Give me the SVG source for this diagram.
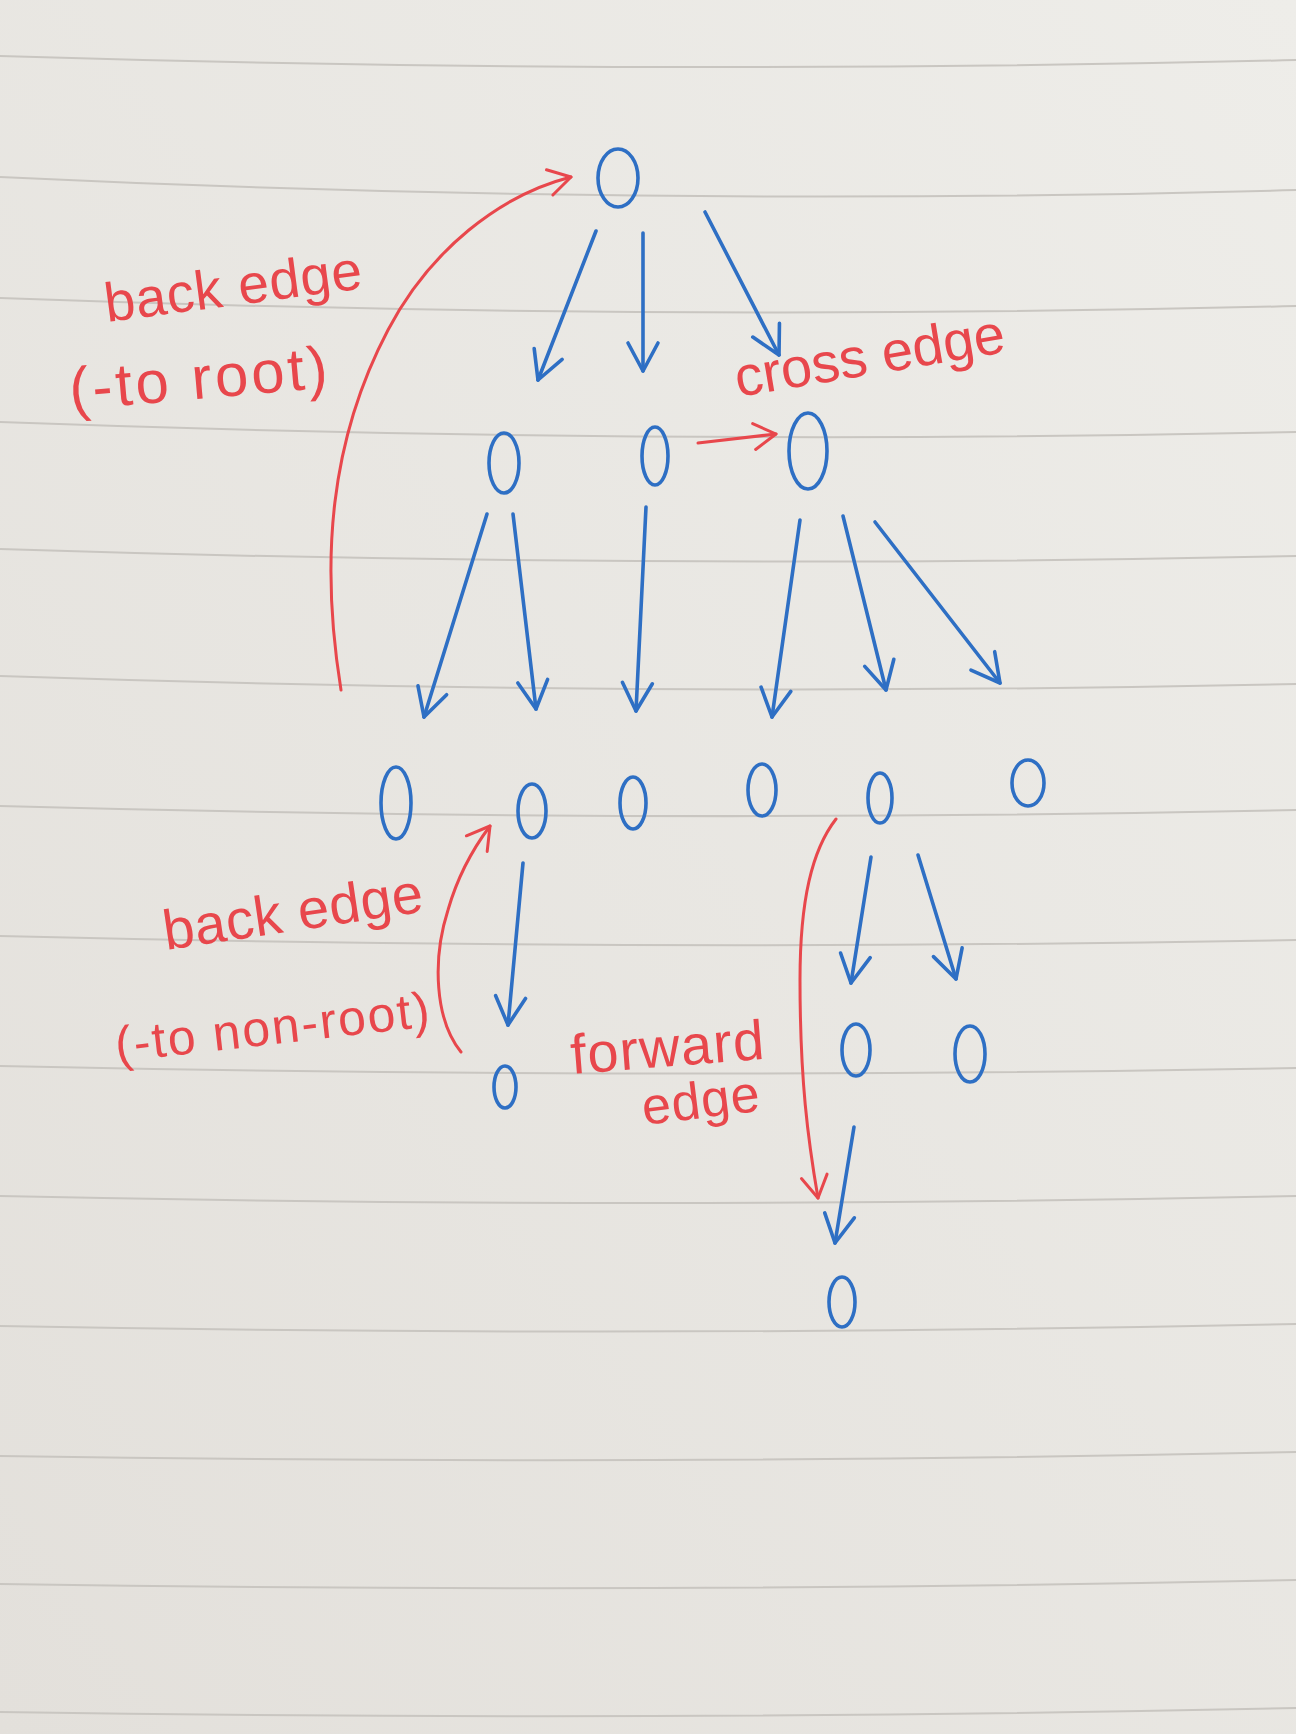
<svg xmlns="http://www.w3.org/2000/svg" width="1296" height="1734" viewBox="0 0 1296 1734">
  <defs>
    <linearGradient id="paper" x1="1" y1="0" x2="0" y2="1">
      <stop offset="0" stop-color="#eeede9"/>
      <stop offset="1" stop-color="#e3e0db"/>
    </linearGradient>
    <marker id="ah-blue" viewBox="-34 -20 40 40" refX="0" refY="0" markerWidth="40" markerHeight="40" markerUnits="userSpaceOnUse" orient="auto">
      <path d="M-28,-15 L0,0 L-28,15" fill="none" stroke="#2e6fc4" stroke-width="3.6" stroke-linecap="round" stroke-linejoin="round"/>
    </marker>
    <marker id="ah-red" viewBox="-34 -20 40 40" refX="0" refY="0" markerWidth="40" markerHeight="40" markerUnits="userSpaceOnUse" orient="auto">
      <path d="M-22,-13 L0,0 L-22,13" fill="none" stroke="#e8474c" stroke-width="3" stroke-linecap="round" stroke-linejoin="round"/>
    </marker>
    <style>
      .rule { fill: none; stroke: #c9c6c1; stroke-width: 2; }
      .node { fill: none; stroke: #2e6fc4; stroke-width: 3.6; }
      .tree { fill: none; stroke: #2e6fc4; stroke-width: 3.6; stroke-linecap: round; marker-end: url(#ah-blue); }
      .nontree { fill: none; stroke: #e8474c; stroke-width: 3; stroke-linecap: round; marker-end: url(#ah-red); }
      .label { fill: #e8474c; font-family: "Liberation Sans", Arial, sans-serif; }
    </style>
  </defs>

  <rect x="0" y="0" width="1296" height="1734" fill="url(#paper)"/>

  <g id="ruled-lines">
    <path class="rule" d="M0,56 Q650,76 1296,60"/>
    <path class="rule" d="M0,177 Q650,208 1296,190"/>
    <path class="rule" d="M0,298 Q650,322 1296,306"/>
    <path class="rule" d="M0,422 Q650,446 1296,432"/>
    <path class="rule" d="M0,549 Q650,570 1296,556"/>
    <path class="rule" d="M0,676 Q650,698 1296,684"/>
    <path class="rule" d="M0,806 Q650,824 1296,810"/>
    <path class="rule" d="M0,936 Q650,952 1296,940"/>
    <path class="rule" d="M0,1066 Q650,1080 1296,1068"/>
    <path class="rule" d="M0,1196 Q650,1210 1296,1196"/>
    <path class="rule" d="M0,1326 Q650,1338 1296,1324"/>
    <path class="rule" d="M0,1456 Q650,1466 1296,1452"/>
    <path class="rule" d="M0,1584 Q650,1594 1296,1580"/>
    <path class="rule" d="M0,1712 Q650,1722 1296,1708"/>
  </g>

  <g id="connectors">
    <path class="tree" d="M596,231 L538,380"/>
    <path class="tree" d="M643,233 L643,371"/>
    <path class="tree" d="M705,212 L779,355"/>
    <path class="tree" d="M487,514 L424,717"/>
    <path class="tree" d="M513,514 L536,709"/>
    <path class="tree" d="M646,507 L636,711"/>
    <path class="tree" d="M800,520 L772,717"/>
    <path class="tree" d="M843,516 L886,690"/>
    <path class="tree" d="M875,522 L1000,683"/>
    <path class="tree" d="M523,863 L508,1025"/>
    <path class="tree" d="M871,857 L851,983"/>
    <path class="tree" d="M918,855 L956,979"/>
    <path class="tree" d="M854,1127 L835,1243"/>
    <path class="nontree" d="M341,690 C320,560 330,440 388,330 C430,250 500,195 571,177"/>
    <path class="nontree" d="M698,443 L776,434"/>
    <path class="nontree" d="M461,1052 C435,1020 432,960 448,910 C458,875 472,850 490,826"/>
    <path class="nontree" d="M836,819 C812,850 800,900 800,980 C800,1080 808,1140 818,1198"/>
  </g>

  <g id="node-root"><ellipse class="node" cx="618" cy="178" rx="20" ry="29"/></g>
  <g id="node-l1a"><ellipse class="node" cx="504" cy="463" rx="15" ry="30"/></g>
  <g id="node-l1b"><ellipse class="node" cx="655" cy="456" rx="13" ry="29"/></g>
  <g id="node-l1c"><ellipse class="node" cx="808" cy="451" rx="19" ry="38"/></g>
  <g id="node-l2a"><ellipse class="node" cx="396" cy="803" rx="15" ry="36"/></g>
  <g id="node-l2b"><ellipse class="node" cx="532" cy="811" rx="14" ry="27"/></g>
  <g id="node-l2c"><ellipse class="node" cx="633" cy="803" rx="13" ry="26"/></g>
  <g id="node-l2d"><ellipse class="node" cx="762" cy="790" rx="14" ry="26"/></g>
  <g id="node-l2e"><ellipse class="node" cx="880" cy="798" rx="12" ry="25"/></g>
  <g id="node-l2f"><ellipse class="node" cx="1028" cy="783" rx="16" ry="23"/></g>
  <g id="node-l3a"><ellipse class="node" cx="505" cy="1087" rx="11" ry="21"/></g>
  <g id="node-l3b"><ellipse class="node" cx="856" cy="1050" rx="14" ry="26"/></g>
  <g id="node-l3c"><ellipse class="node" cx="970" cy="1054" rx="15" ry="28"/></g>
  <g id="node-l4"><ellipse class="node" cx="842" cy="1302" rx="13" ry="25"/></g>

  <g id="labels">
    <text class="label" x="107" y="322" font-size="55" textLength="259" lengthAdjust="spacing" transform="rotate(-7.5 107 322)">back edge</text>
    <text class="label" x="71" y="410" font-size="60" textLength="259" lengthAdjust="spacing" transform="rotate(-5 71 410)">(-to root)</text>
    <text class="label" x="738" y="397" font-size="56" textLength="273" lengthAdjust="spacing" transform="rotate(-9.5 738 397)">cross edge</text>
    <text class="label" x="166" y="950" font-size="56" textLength="262" lengthAdjust="spacing" transform="rotate(-8.5 166 950)">back edge</text>
    <text class="label" x="117" y="1062" font-size="50" textLength="316" lengthAdjust="spacing" transform="rotate(-6.5 117 1062)">(-to non-root)</text>
    <text class="label" x="572" y="1074" font-size="56" textLength="194" lengthAdjust="spacing" transform="rotate(-4.5 572 1074)">forward</text>
    <text class="label" x="644" y="1125" font-size="52" textLength="118" lengthAdjust="spacing" transform="rotate(-7 644 1125)">edge</text>
  </g>
</svg>
